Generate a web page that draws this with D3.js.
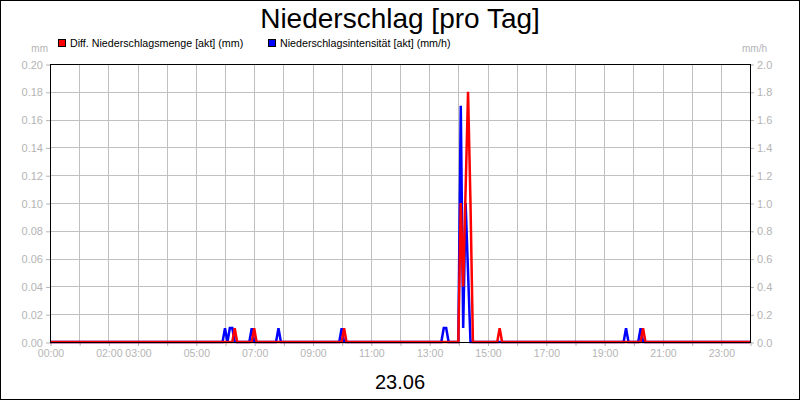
<!DOCTYPE html>
<meta charset="utf-8">
<style>
  body { margin: 0; background: #fff; }
  svg { display: block; font-family: "Liberation Sans", Arial, sans-serif; }
</style>
<div id="container"></div>
<script src="https://cdn.jsdelivr.net/npm/d3@7"></script>
<script>
// Diff. Niederschlagsmenge (mm), left axis
const mengeTimes  = ["00:00", "06:15", "06:20", "06:25", "06:55", "07:00", "07:05", "10:00", "10:05", "10:10",
                     "14:00", "14:05", "14:10", "14:20", "14:25", "14:30", "15:20", "15:25", "15:30",
                     "20:15", "20:20", "20:25", "24:00"];
const mengeValues = [0, 0, 0.01, 0, 0, 0.01, 0, 0, 0.01, 0,
                     0, 0.10, 0.04, 0.18, 0.10, 0, 0, 0.01, 0,
                     0, 0.01, 0, 0];

// Niederschlagsintensität (mm/h), right axis
const intensTimes  = ["00:00", "05:55", "06:00", "06:05", "06:10", "06:15", "06:20", "06:50", "06:55", "07:00",
                      "07:45", "07:50", "07:55", "09:55", "10:00", "10:05", "13:25", "13:30", "13:35", "13:40",
                      "14:00", "14:05", "14:10", "14:15", "14:20", "14:25", "19:40", "19:45", "19:50",
                      "20:10", "20:15", "20:20", "24:00"];
const intensValues = [0, 0, 0.1, 0, 0.1, 0.1, 0, 0, 0.1, 0,
                      0, 0.1, 0, 0, 0.1, 0, 0, 0.1, 0.1, 0,
                      0, 1.7, 0.1, 1.0, 0.5, 0, 0, 0.1, 0,
                      0, 0.1, 0, 0];

const xLabels = ["00:00", "02:00", "03:00", "05:00", "07:00", "09:00", "11:00", "13:00", "15:00", "17:00", "19:00", "21:00", "23:00"];
const leftTicks  = [0, 0.02, 0.04, 0.06, 0.08, 0.10, 0.12, 0.14, 0.16, 0.18, 0.20];
const rightTicks = [0, 0.2, 0.4, 0.6, 0.8, 1.0, 1.2, 1.4, 1.6, 1.8, 2.0];
const hourTicks  = d3.range(0, 25);

const W = 800, H = 400;
const pL = 50, pR = 750, pT = 64, pB = 342;
const gray = "#b4b4b4";

const toHours = s => { const [h, m] = s.split(":").map(Number); return h + m / 60; };

const x  = d3.scaleLinear().domain([0, 24]).range([pL, pR]);
const yL = d3.scaleLinear().domain([0, 0.2]).range([pB, pT]);
const yR = d3.scaleLinear().domain([0, 2]).range([pB, pT]);

const svg = d3.create("svg").attr("width", W).attr("height", H);

svg.append("rect").attr("x", 0.5).attr("y", 0.5).attr("width", W - 1).attr("height", H - 1)
    .attr("fill", "#fff").attr("stroke", "#000");

// grid
svg.append("g").selectAll("line").data(hourTicks.slice(1, -1)).join("line")
    .attr("x1", d => Math.round(x(d)) + 0.5).attr("x2", d => Math.round(x(d)) + 0.5)
    .attr("y1", pT).attr("y2", pB)
    .attr("stroke", "#c0c0c0");
svg.append("g").selectAll("line").data(leftTicks.slice(1, -1)).join("line")
    .attr("x1", pL).attr("x2", pR)
    .attr("y1", d => Math.round(yL(d)) + 0.5).attr("y2", d => Math.round(yL(d)) + 0.5)
    .attr("stroke", "#c0c0c0");

// axes
function styleAxis(g, size) {
  g.select(".domain").remove();
  g.selectAll(".tick line").attr("stroke", gray);
  g.selectAll(".tick text").attr("fill", gray).attr("font-size", size)
    .attr("font-family", "Liberation Sans, Arial, sans-serif");
}
svg.append("g").attr("transform", `translate(${pL},0.5)`)
    .call(d3.axisLeft(yL).tickValues(leftTicks).tickFormat(d3.format(".2f")).tickSize(4).tickPadding(3))
    .call(styleAxis, 11);
svg.append("g").attr("transform", `translate(${pR},0.5)`)
    .call(d3.axisRight(yR).tickValues(rightTicks).tickFormat(d3.format(".1f")).tickSize(4).tickPadding(3))
    .call(styleAxis, 11);
const labelByHour = new Map(xLabels.map(l => [toHours(l), l]));
svg.append("g").attr("transform", `translate(0.5,${pB})`)
    .call(d3.axisBottom(x).tickValues(hourTicks).tickSize(4).tickPadding(4)
      .tickFormat(d => labelByHour.get(d) || ""))
    .call(styleAxis, 10.5);

// lines
const intens = intensTimes.map((t, i) => [toHours(t), intensValues[i]]);
const menge  = mengeTimes.map((t, i) => [toHours(t), mengeValues[i]]);

svg.append("path").datum(intens)
    .attr("fill", "none").attr("stroke", "#0000ff").attr("stroke-width", 2.5)
    .attr("d", d3.line().x(d => x(d[0])).y(d => yR(d[1])));
svg.append("path").datum(menge)
    .attr("fill", "none").attr("stroke", "#ff0000").attr("stroke-width", 2.5)
    .attr("d", d3.line().x(d => x(d[0])).y(d => yL(d[1])));

// plot frame
svg.append("rect").attr("x", pL + 0.5).attr("y", pT + 0.5)
    .attr("width", pR - pL).attr("height", pB - pT)
    .attr("fill", "none").attr("stroke", "#000");

// titles
svg.append("text").attr("x", 400).attr("y", 28).attr("text-anchor", "middle")
    .attr("font-size", 28).text("Niederschlag [pro Tag]");
svg.append("text").attr("x", 400).attr("y", 389).attr("text-anchor", "middle")
    .attr("font-size", 20).text("23.06");
svg.append("text").attr("x", 48).attr("y", 52).attr("text-anchor", "end")
    .attr("font-size", 10).attr("fill", gray).text("mm");
svg.append("text").attr("x", 742).attr("y", 52)
    .attr("font-size", 10).attr("fill", gray).text("mm/h");

// legend
const legend = [["Diff. Niederschlagsmenge [akt] (mm)", "#ff0000", 58], ["Niederschlagsintensität [akt] (mm/h)", "#0000ff", 268]];
legend.forEach(([label, color, lx]) => {
  svg.append("rect").attr("x", lx + 0.5).attr("y", 39.5).attr("width", 7).attr("height", 7)
      .attr("fill", color).attr("stroke", "#000");
  svg.append("text").attr("x", lx + 12).attr("y", 47).attr("font-size", 10.7).text(label);
});

container.append(svg.node());
</script>
